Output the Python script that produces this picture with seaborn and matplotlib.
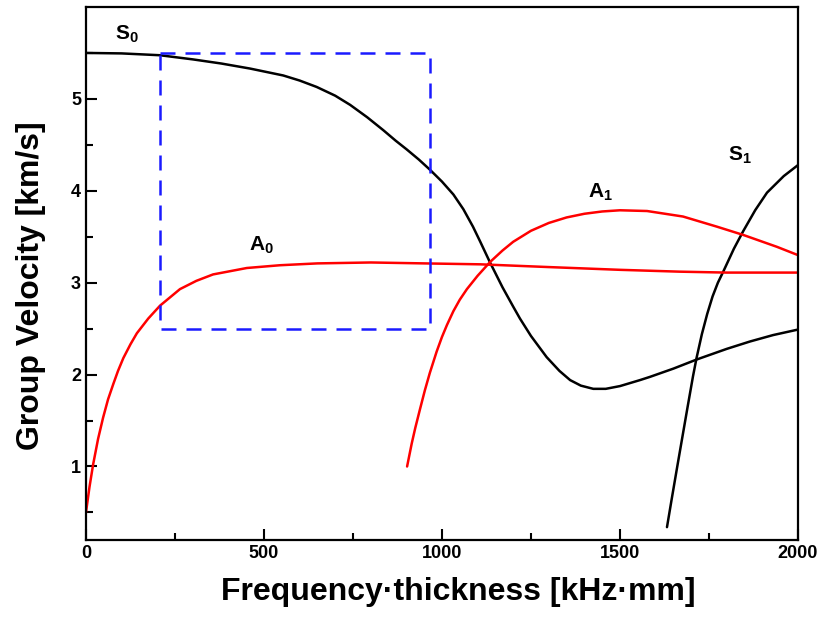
import numpy as np
import pandas as pd
import seaborn as sns
import matplotlib.pyplot as plt

# dispersion curves (x in kHz*mm, y in km/s)
s0_x = [0, 100, 208, 300, 380, 461, 554, 600, 648, 700, 742, 790, 835, 870, 901, 935, 966,
        1000, 1032, 1060, 1087, 1107, 1135, 1170, 1200, 1219, 1250, 1294, 1330, 1360,
        1390, 1425, 1460, 1500, 1556, 1584, 1650, 1716, 1800, 1865, 1930, 2000]
s0_y = [5.50, 5.495, 5.475, 5.43, 5.385, 5.33, 5.255, 5.20, 5.13, 5.035, 4.935, 4.80, 4.66, 4.545, 4.45, 4.34, 4.23,
        4.10, 3.96, 3.80, 3.61, 3.45, 3.22, 2.95, 2.74, 2.61, 2.42, 2.19, 2.04, 1.94,
        1.88, 1.845, 1.845, 1.875, 1.94, 1.975, 2.065, 2.165, 2.28, 2.36, 2.43, 2.49]

s1_x = [1632, 1645, 1660, 1677, 1690, 1705, 1715, 1730, 1745, 1760, 1775, 1790, 1820,
        1846, 1880, 1913, 1960, 2000]
s1_y = [0.34, 0.64, 0.98, 1.36, 1.65, 1.98, 2.18, 2.44, 2.66, 2.85, 3.00, 3.12, 3.37,
        3.56, 3.79, 3.98, 4.16, 4.28]

a0_x = [0, 10, 20, 34, 48, 62, 77, 90, 105, 125, 143, 175, 208, 264, 310, 357, 452, 545,
        650, 800, 950, 1107, 1300, 1500, 1668, 1800, 2000]
a0_y = [0.50, 0.78, 1.02, 1.30, 1.53, 1.73, 1.90, 2.04, 2.18, 2.33, 2.45, 2.61, 2.75, 2.93, 3.02, 3.09, 3.16, 3.19,
        3.21, 3.22, 3.21, 3.20, 3.17, 3.14, 3.12, 3.11, 3.11]

a1_x = [902, 915, 925, 938, 952, 966, 985, 1000, 1014, 1032, 1050, 1070, 1100, 1135, 1170,
        1200, 1250, 1300, 1350, 1400, 1450, 1500, 1576, 1677, 1772, 1846, 1941, 2000]
a1_y = [1.00, 1.25, 1.42, 1.62, 1.83, 2.02, 2.25, 2.41, 2.54, 2.69, 2.815, 2.93, 3.075, 3.225, 3.35,
        3.445, 3.565, 3.65, 3.71, 3.75, 3.775, 3.788, 3.78, 3.72, 3.61, 3.52, 3.39, 3.30]

# dashed selection box
box_x = [208, 966, 966, 208, 208]
box_y = [5.5, 5.5, 2.5, 2.5, 5.5]

mode_labels = ['S$_0$', 'A$_0$', 'A$_1$', 'S$_1$']
label_x = [115, 494, 1444, 1837]
label_y = [5.70, 3.41, 3.98, 4.39]

sns.set_style("ticks")
plt.rcParams['font.family'] = ['Liberation Sans', 'DejaVu Sans']
plt.rcParams['font.weight'] = 'bold'
plt.rcParams['mathtext.fontset'] = 'custom'
plt.rcParams['mathtext.rm'] = 'Liberation Sans:bold'
plt.rcParams['mathtext.it'] = 'Liberation Sans:bold'
plt.rcParams['mathtext.bf'] = 'Liberation Sans:bold'
for key in ['text.color', 'axes.labelcolor', 'xtick.color', 'ytick.color', 'axes.edgecolor']:
    plt.rcParams[key] = 'black'

fig = plt.figure(figsize=(8.29, 6.19), dpi=100)
ax = fig.add_axes([0.1037, 0.1276, 0.8589, 0.8611])

sns.lineplot(x=s0_x, y=s0_y, color='black', lw=1.8, ax=ax)
sns.lineplot(x=s1_x, y=s1_y, color='black', lw=1.8, ax=ax)
sns.lineplot(x=a0_x, y=a0_y, color='red', lw=1.8, ax=ax)
sns.lineplot(x=a1_x, y=a1_y, color='red', lw=1.8, ax=ax)
ax.plot(box_x, box_y, color='#1a1aff', lw=1.8, dashes=(6, 4))

for lab, lx, ly in zip(mode_labels, label_x, label_y):
    ax.text(lx, ly, lab, fontsize=15, fontweight='bold', ha='center', va='center')

ax.set_xlim(0, 2000)
ax.set_ylim(0.2, 6.0)
ax.set_xticks([0, 500, 1000, 1500, 2000])
ax.set_xticks([250, 750, 1250, 1750], minor=True)
ax.set_yticks([1, 2, 3, 4, 5])
ax.set_yticks([0.5, 1.5, 2.5, 3.5, 4.5, 5.5], minor=True)
ax.tick_params(which='both', direction='in', width=1.5, labelsize=13)
ax.tick_params(which='major', length=8)
ax.tick_params(which='minor', length=5)
for lbl in ax.get_xticklabels() + ax.get_yticklabels():
    lbl.set_fontweight('bold')
for sp in ax.spines.values():
    sp.set_visible(True)
    sp.set_linewidth(1.6)

ax.set_xlabel('Frequency·thickness [kHz·mm]', fontsize=23, fontweight='bold')
ax.set_ylabel('Group Velocity [km/s]', fontsize=23, fontweight='bold')
ax.xaxis.set_label_coords(0.523, -0.069)
ax.yaxis.set_label_coords(-0.056, 0.477)

fig.savefig('out.png', dpi=100)
